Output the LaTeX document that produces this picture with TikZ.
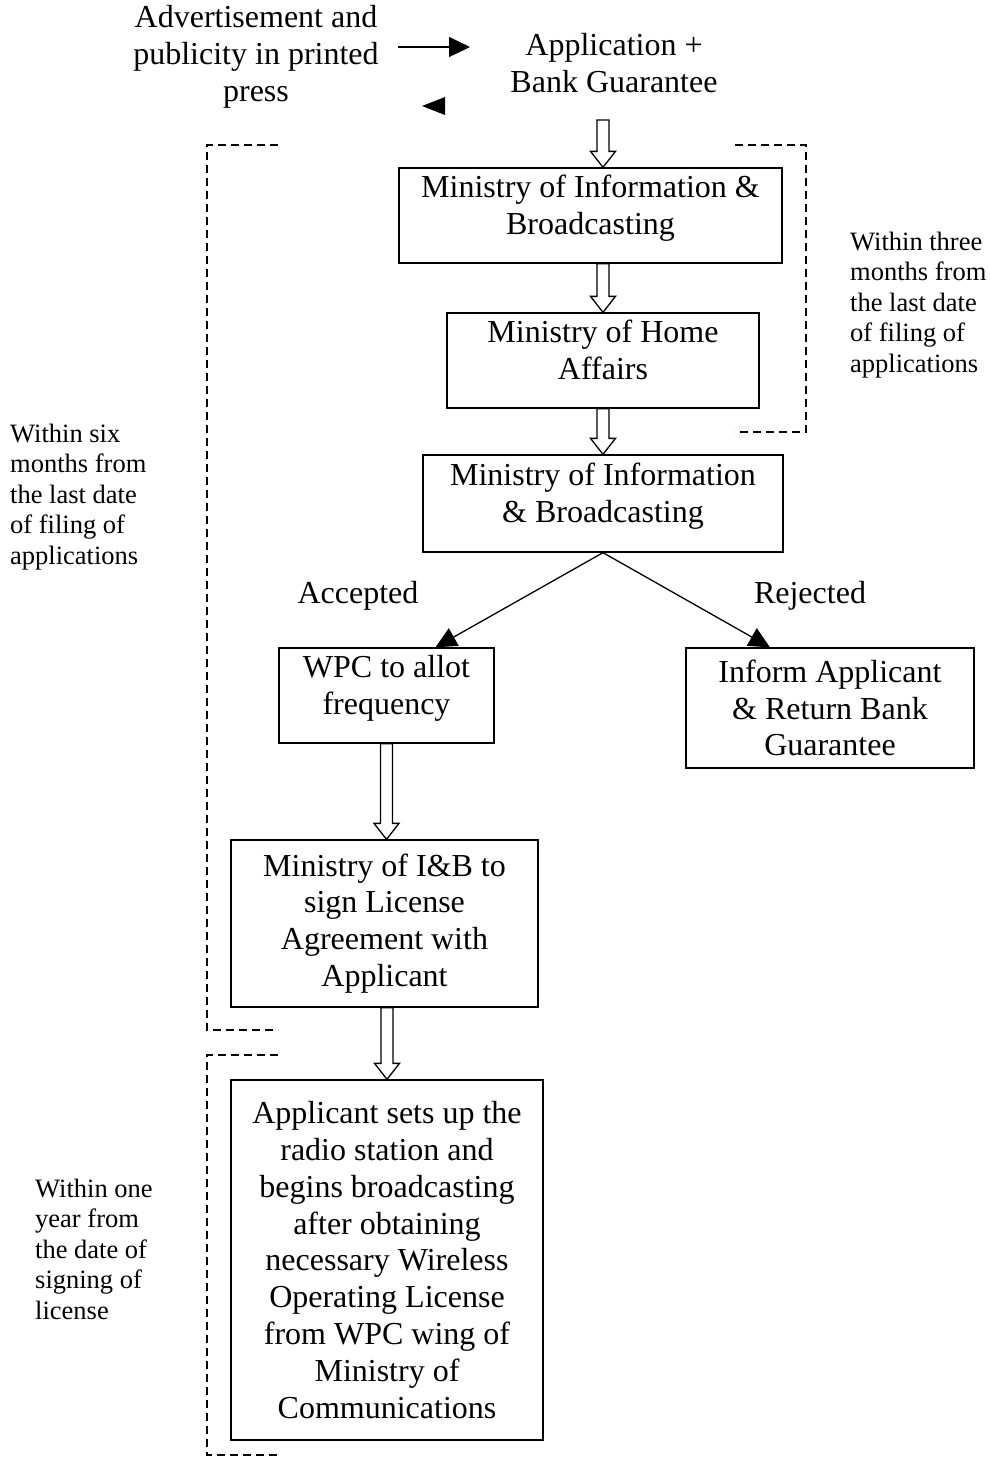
\documentclass[tikz,border=0pt]{standalone}
\usepackage{fontspec}
\setmainfont{Liberation Serif}
\usetikzlibrary{arrows.meta}
\usetikzlibrary{calc}

% hollow block arrow, drawn at the x of the start point
\newcommand{\fatarrow}[2]{%
    \draw [line width=1.3pt,fill=white] let \p1=#1, \p2=#2 in
        (\x1-6pt,\y1) -- (\x1+6pt,\y1) -- (\x1+6pt,\y2+16pt) --
        (\x1+12.5pt,\y2+16pt) -- (\x1,\y2) -- (\x1-12.5pt,\y2+16pt) --
        (\x1-6pt,\y2+16pt) -- cycle;}

\begin{document}
\begin{tikzpicture}[x=1pt,y=-1pt,
        box/.style={draw,line width=1.3pt,align=center,inner sep=0pt,
            font=\fontsize{32}{36.8}\selectfont},
        upper/.style={text depth=22pt},
        txt/.style={align=center,inner sep=0pt,
            font=\fontsize{32}{36.8}\selectfont},
        note/.style={align=left,anchor=west,inner sep=0pt,
            font=\fontsize{26.5}{30.5}\selectfont},
        bracket/.style={line width=1.4pt,dash pattern=on 8pt off 5pt},
        tip/.style={-{Triangle[length=21pt,width=20pt]},line width=1.3pt}]
        \useasboundingbox (0,0) rectangle (990,1465);

        % Top line
        \node [txt] (advert) at (256,57)
            {Advertisement and\\publicity in printed\\press};
        \node [txt] (appl) at (614,63) {Application +\\Bank Guarantee};
        \coordinate (pressout) at (398,47);
        \coordinate (applin) at (470,47);
        \draw [tip] (pressout) -- (applin);
        \fill (422,106) -- (445,97) -- (445,115) -- cycle;
        \coordinate (applout) at (603,120);

        % Boxes
        \node [box,upper,minimum width=383,minimum height=95] (mib1)
            at (590.5,215.5) {Ministry of Information \&\\Broadcasting};
        \node [box,upper,minimum width=312,minimum height=95] (mha)
            at (603,360.5) {Ministry of Home\\Affairs};
        \node [box,upper,minimum width=360,minimum height=97] (mib2)
            at (603,503.5) {Ministry of Information\\\& Broadcasting};
        \node [box,upper,minimum width=215,minimum height=95] (wpc)
            at (386.5,695.5) {WPC to allot\\frequency};
        \node [box,minimum width=288,minimum height=120] (inform) at (830,708)
            {Inform Applicant\\\& Return Bank\\Guarantee};
        \node [box,minimum width=307,minimum height=167] (sign) at (384.5,923.5)
            {Ministry of I\&B to\\sign License\\Agreement with\\Applicant};
        \node [box,minimum width=312,minimum height=360] (setup) at (387,1260)
            {Applicant sets up the\\radio station and\\begins broadcasting\\
            after obtaining\\necessary Wireless\\Operating License\\
            from WPC wing of\\Ministry of\\Communications};

        % Block arrows
        \fatarrow{(applout)}{(mib1.north)}
        \fatarrow{(mha.north |- mib1.south)}{(mha.north)}
        \fatarrow{(mib2.north |- mha.south)}{(mib2.north)}
        \fatarrow{(wpc.south)}{(sign.north)}
        \fatarrow{(setup.north |- sign.south)}{(setup.north)}

        % Decision
        \node [txt] (acc) at (358,596) {Accepted};
        \node [txt] (rej) at (810,596) {Rejected};
        \draw [tip] (mib2.south) -- ($(wpc.north)+(49,0)$);
        \draw [tip] (mib2.south) -- ($(inform.north)+(-60,0)$);

        % Time limits
        \draw [bracket] (735,145) -- (806,145) -- (806,432) -- (735,432);
        \draw [bracket] (278,145) -- (207,145) -- (207,1030) -- (278,1030);
        \draw [bracket] (278,1055) -- (207,1055) -- (207,1455) -- (278,1455);

        \node [note] (three) at (850,305)
            {Within three\\months from\\the last date\\of filing of\\applications};
        \node [note] (six) at (10,497)
            {Within six\\months from\\the last date\\of filing of\\applications};
        \node [note] (one) at (35,1249)
            {Within one\\year from\\the date of\\signing of\\license};
\end{tikzpicture}
\end{document}
